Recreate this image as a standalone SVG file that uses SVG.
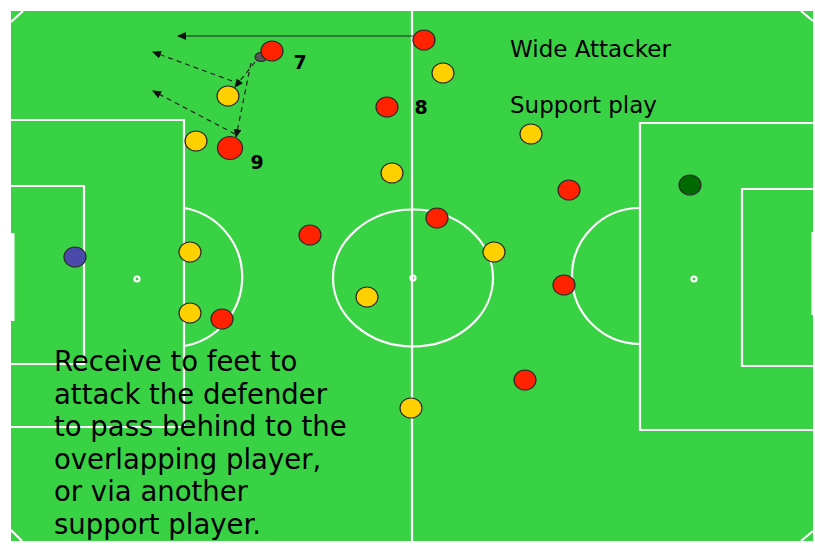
<svg xmlns="http://www.w3.org/2000/svg" width="815" height="546" viewBox="0 0 815 546">
<style>
.ln{fill:none;stroke:#fff;stroke-width:2.2}
.pl{stroke:#2a2a2a;stroke-width:1.2}
.red{fill:#ff2200}
.yel{fill:#ffd000}
.num{font-family:"DejaVu Sans",sans-serif;font-weight:bold;font-size:19px;fill:#000;text-anchor:middle}
.txt{font-family:"DejaVu Sans",sans-serif;fill:#000}
.arr{fill:none;stroke:#222;stroke-width:1.2}
.dash{stroke-dasharray:5 4}
</style>
<defs>
<marker id="ah" markerUnits="userSpaceOnUse" markerWidth="10" markerHeight="8" refX="8" refY="4" orient="auto">
<path d="M0,0 L9,4 L0,8 Z" fill="#111"/>
</marker>
</defs>
<rect x="0" y="0" width="815" height="546" fill="#fff"/>
<g id="pitch">
<rect x="11" y="11" width="802" height="530" fill="#3ad245"/>
<line class="ln" x1="412" y1="11" x2="412" y2="541"/>
<ellipse class="ln" cx="413" cy="278" rx="80" ry="68.5"/>
<circle class="ln" cx="413" cy="278" r="2.5" stroke-width="1.3"/>
<path class="ln" d="M11,120 H184 V427 H11"/>
<path class="ln" d="M11,186 H84 V364 H11"/>
<path class="ln" d="M184,208 A70,70 0 0 1 184,346"/>
<circle class="ln" cx="137" cy="279" r="2.5" stroke-width="1.3"/>
<rect x="8" y="233" width="6.5" height="88" fill="#fff"/>
<path class="ln" d="M813,123 H640 V430 H813"/>
<path class="ln" d="M813,189 H742 V366 H813"/>
<path class="ln" d="M640,208 A68,68 0 1 0 640,344"/>
<circle class="ln" cx="694" cy="279" r="2.5" stroke-width="1.3"/>
<rect x="811.5" y="232" width="4" height="83" fill="#fff"/>
<path class="ln" d="M11,22 L23,11"/>
<path class="ln" d="M801,11 L813,21"/>
<path class="ln" d="M11,530 L22,541"/>
<path class="ln" d="M801,541 L813,531"/>
</g>
<g id="connectors">
<line class="arr" x1="413" y1="36" x2="178" y2="36" marker-end="url(#ah)"/>
<line class="arr dash" x1="255" y1="62" x2="235" y2="87" marker-end="url(#ah)"/>
<line class="arr dash" x1="251" y1="63" x2="236" y2="137" marker-end="url(#ah)"/>
<line class="arr dash" x1="232" y1="81" x2="153" y2="52" marker-end="url(#ah)"/>
<line class="arr dash" x1="235" y1="134" x2="153" y2="91" marker-end="url(#ah)"/>
</g>
<g id="ball"><ellipse class="pl" cx="261" cy="57" rx="6" ry="4.5" fill="#555"/></g>
<g id="red7"><ellipse class="pl red" cx="272" cy="51" rx="11" ry="10"/><text class="num" x="300" y="69">7</text></g>
<g id="red-top"><ellipse class="pl red" cx="424" cy="40" rx="11" ry="10"/></g>
<g id="red8"><ellipse class="pl red" cx="387" cy="107" rx="11" ry="10"/><text class="num" x="421" y="114">8</text></g>
<g id="red9"><ellipse class="pl red" cx="230" cy="148" rx="12.5" ry="11.5"/><text class="num" x="257" y="169">9</text></g>
<g id="red-a"><ellipse class="pl red" cx="310" cy="235" rx="11" ry="10"/></g>
<g id="red-b"><ellipse class="pl red" cx="437" cy="218" rx="11" ry="10"/></g>
<g id="red-c"><ellipse class="pl red" cx="569" cy="190" rx="11" ry="10"/></g>
<g id="red-d"><ellipse class="pl red" cx="564" cy="285" rx="11" ry="10"/></g>
<g id="red-e"><ellipse class="pl red" cx="525" cy="380" rx="11" ry="10"/></g>
<g id="red-f"><ellipse class="pl red" cx="222" cy="319" rx="11" ry="10"/></g>
<g id="yel-a"><ellipse class="pl yel" cx="443" cy="73" rx="11" ry="10"/></g>
<g id="yel-b"><ellipse class="pl yel" cx="228" cy="96" rx="11" ry="10"/></g>
<g id="yel-c"><ellipse class="pl yel" cx="196" cy="141" rx="11" ry="10"/></g>
<g id="yel-d"><ellipse class="pl yel" cx="392" cy="173" rx="11" ry="10"/></g>
<g id="yel-e"><ellipse class="pl yel" cx="531" cy="134" rx="11" ry="10"/></g>
<g id="yel-f"><ellipse class="pl yel" cx="494" cy="252" rx="11" ry="10"/></g>
<g id="yel-g"><ellipse class="pl yel" cx="367" cy="297" rx="11" ry="10"/></g>
<g id="yel-h"><ellipse class="pl yel" cx="190" cy="252" rx="11" ry="10"/></g>
<g id="yel-i"><ellipse class="pl yel" cx="190" cy="313" rx="11" ry="10"/></g>
<g id="yel-j"><ellipse class="pl yel" cx="411" cy="408" rx="11" ry="10"/></g>
<g id="keeper-left"><ellipse class="pl" cx="75" cy="257" rx="11" ry="10" fill="#4a4aaa"/></g>
<g id="keeper-right"><ellipse class="pl" cx="690" cy="185" rx="11" ry="10" fill="#006a00"/></g>
<g id="title">
<text class="txt" x="510" y="57" font-size="23">Wide Attacker</text>
<text class="txt" x="510" y="113" font-size="23">Support play</text>
</g>
<g id="note">
<text class="txt" font-size="27.5">
<tspan x="54" y="371">Receive to feet to</tspan>
<tspan x="54" y="403.5">attack the defender</tspan>
<tspan x="54" y="436">to pass behind to the</tspan>
<tspan x="54" y="468.5">overlapping player,</tspan>
<tspan x="54" y="501">or via another</tspan>
<tspan x="54" y="533.5">support player.</tspan>
</text>
</g>
</svg>
